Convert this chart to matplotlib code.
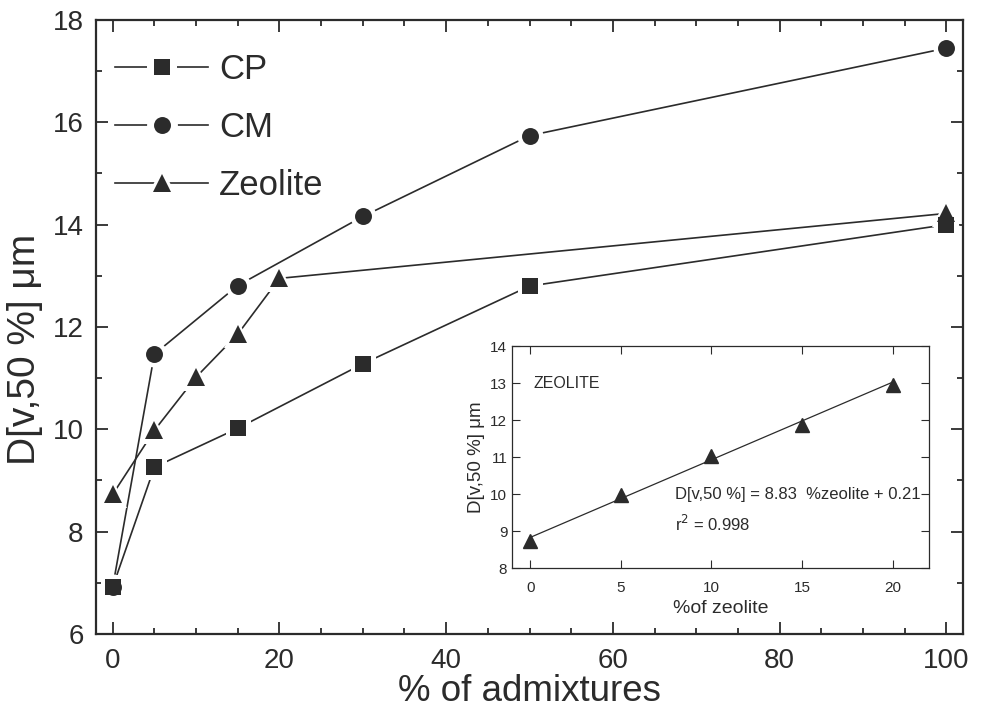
import numpy as np
import matplotlib
matplotlib.use('Agg')
import matplotlib.pyplot as plt
from matplotlib.lines import Line2D
from matplotlib.ticker import MultipleLocator

plt.rcParams['font.family'] = ['Liberation Sans', 'DejaVu Sans']

# data
cp_x = [0, 5, 15, 30, 50, 100]
cp_y = [6.92, 9.26, 10.02, 11.28, 12.80, 14.00]
cm_x = [0, 5, 15, 30, 50, 100]
cm_y = [6.92, 11.47, 12.81, 14.16, 15.74, 17.45]
zeo_x = [0, 5, 10, 15, 20, 100]
zeo_y = [8.73, 9.98, 11.02, 11.86, 12.95, 14.22]

inset_x = [0, 5, 10, 15, 20]
inset_y = [8.73, 9.98, 11.02, 11.86, 12.95]
fit_slope = 0.21
fit_icpt = 8.83

ink = '#2b2b2b'

fig = plt.figure(figsize=(9.83, 7.11), dpi=100)
ax = fig.add_axes([0.0977, 0.1083, 0.882, 0.8636])

series = [
    ('CP', cp_x, cp_y, 's', 11.5, 3.4),
    ('CM', cm_x, cm_y, 'o', 12.2, 3.2),
    ('Zeolite', zeo_x, zeo_y, '^', 13.2, 3.1),
]
handles = []
for name, xs, ys, mk, ms, z in series:
    # line with a white halo around each point, then the dark marker on top
    ax.plot(xs, ys, color=ink, linewidth=1.2, marker=mk,
            markersize=ms + 6.5, markerfacecolor='white',
            markeredgewidth=0, zorder=2)
    ax.plot(xs, ys, linestyle='none', marker=mk, markersize=ms,
            markerfacecolor=ink, markeredgewidth=0, zorder=z)
    # legend proxies: wider gap around the marker, as in the original
    h_line = Line2D([], [], color=ink, linewidth=1.2, marker=mk,
                    markersize=ms + 10, markerfacecolor='white',
                    markeredgewidth=0)
    h_pt = Line2D([], [], linestyle='none', marker=mk, markersize=ms,
                  markerfacecolor=ink, markeredgewidth=0)
    handles.append((h_line, h_pt))

ax.set_xlim(-2, 102)
ax.set_ylim(6, 18)
ax.xaxis.set_major_locator(MultipleLocator(20))
ax.xaxis.set_minor_locator(MultipleLocator(5))
ax.yaxis.set_major_locator(MultipleLocator(2))
ax.yaxis.set_minor_locator(MultipleLocator(1))
ax.tick_params(which='both', direction='in', top=True, right=True, colors=ink,
               labelsize=20, width=1.3)
ax.tick_params(which='major', length=8.5)
ax.tick_params(which='minor', length=4.5)
ax.tick_params(axis='x', pad=10)
ax.tick_params(axis='y', pad=9)
for s in ax.spines.values():
    s.set_linewidth(1.6)
    s.set_color(ink)
ax.set_xlabel('% of admixtures', fontsize=26.5, color=ink, labelpad=0)
ax.set_ylabel('D[v,50 %] μm', fontsize=28, color=ink)
ax.yaxis.set_label_coords(-0.061, 0.464)

leg = ax.legend(handles, [s[0] for s in series], loc='upper left',
                frameon=False, fontsize=25, handlelength=2.7,
                handletextpad=0.3, labelspacing=0.72, borderaxespad=0.3,
                bbox_to_anchor=(-0.0065, 0.985))
for t in leg.get_texts():
    t.set_color(ink)

# inset: zeolite linear fit
ins = fig.add_axes([0.521, 0.201, 0.424, 0.312])
ins.plot(inset_x, inset_y, linestyle='none', marker='^', markersize=10,
         color=ink, zorder=3)
fx = np.array([inset_x[0], inset_x[-1]])
ins.plot(fx, fit_icpt + fit_slope * fx, color=ink, linewidth=0.9)
ins.set_xlim(-1, 22)
ins.set_ylim(8, 14)
ins.xaxis.set_major_locator(MultipleLocator(5))
ins.yaxis.set_major_locator(MultipleLocator(1))
ins.tick_params(direction='in', top=True, right=True, colors=ink,
                labelsize=11, length=6, width=0.8)
ins.tick_params(axis='x', pad=9)
for s in ins.spines.values():
    s.set_linewidth(0.9)
    s.set_color(ink)
ins.set_xlabel('%of zeolite', fontsize=14, color=ink, labelpad=4)
ins.set_ylabel('D[v,50 %] μm', fontsize=13.5, color=ink, labelpad=4)
ins.text(0.2, 13.0, 'ZEOLITE', fontsize=11.5, color=ink, va='center')
ins.text(8.0, 10.0, 'D[v,50 %] = 8.83  %zeolite + 0.21', fontsize=12,
         color=ink, va='center')
ins.text(8.0, 9.2, 'r$^2$ = 0.998', fontsize=12, color=ink, va='center')

fig.savefig('out.png', dpi=100)
